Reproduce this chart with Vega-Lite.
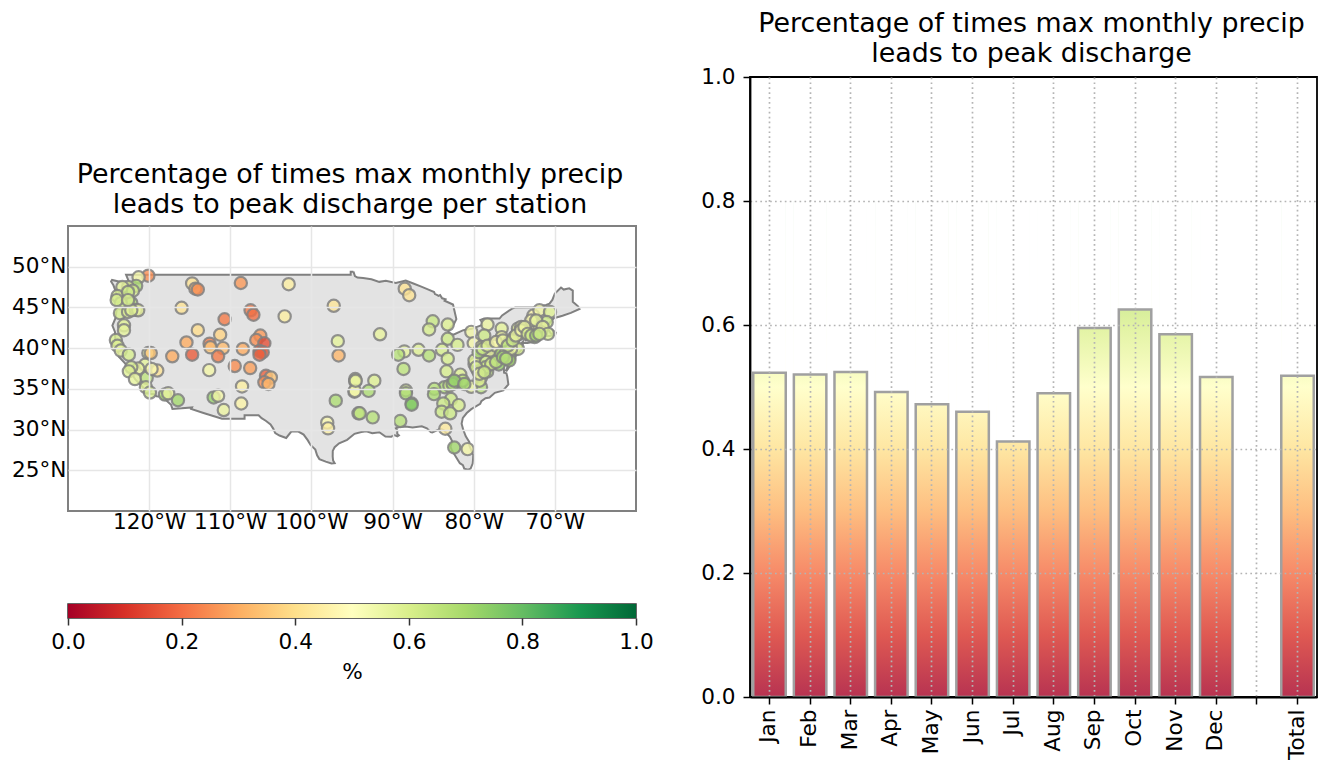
{"$schema":"https://vega.github.io/schema/vega-lite/v6.json","background":"white","padding":{"left":10,"top":10,"right":0,"bottom":0},"spacing":45,"config":{"font":"DejaVu Sans","view":{"fill":"white"},"title":{"font":"DejaVu Sans","fontWeight":"normal","color":"#000000","fontSize":26.85,"lineHeight":30,"anchor":"middle"},"axis":{"labelFont":"DejaVu Sans","titleFont":"DejaVu Sans","labelColor":"#000000","titleColor":"#000000","labelFontSize":21.6,"titleFontSize":21.6,"titleFontWeight":"normal","labelOverlap":false,"labelBound":false,"labelFlush":false}},"datasets":{"land":[{"i":0,"lon":-94.82,"lat":49.39},{"i":1,"lon":-94.64,"lat":48.84},{"i":2,"lon":-94.33,"lat":48.67},{"i":3,"lon":-93.63,"lat":48.61},{"i":4,"lon":-92.61,"lat":48.45},{"i":5,"lon":-91.64,"lat":48.14},{"i":6,"lon":-90.83,"lat":48.27},{"i":7,"lon":-89.6,"lat":48.01},{"i":8,"lon":-88.38,"lat":48.3},{"i":9,"lon":-87.44,"lat":47.94},{"i":10,"lon":-86.46,"lat":47.55},{"i":11,"lon":-85.65,"lat":47.22},{"i":12,"lon":-84.88,"lat":46.9},{"i":13,"lon":-84.78,"lat":46.64},{"i":14,"lon":-84.54,"lat":46.54},{"i":15,"lon":-84.34,"lat":46.41},{"i":16,"lon":-84.14,"lat":46.51},{"i":17,"lon":-83.89,"lat":46.12},{"i":18,"lon":-83.47,"lat":45.99},{"i":19,"lon":-83.59,"lat":45.82},{"i":20,"lon":-82.55,"lat":45.35},{"i":21,"lon":-82.34,"lat":44.44},{"i":22,"lon":-82.14,"lat":43.57},{"i":23,"lon":-82.43,"lat":42.98},{"i":24,"lon":-82.9,"lat":42.43},{"i":25,"lon":-83.12,"lat":42.08},{"i":26,"lon":-83.03,"lat":41.83},{"i":27,"lon":-82.69,"lat":41.68},{"i":28,"lon":-82.44,"lat":41.68},{"i":29,"lon":-81.28,"lat":42.21},{"i":30,"lon":-80.25,"lat":42.37},{"i":31,"lon":-78.94,"lat":42.86},{"i":32,"lon":-79.01,"lat":43.27},{"i":33,"lon":-79.17,"lat":43.47},{"i":34,"lon":-78.72,"lat":43.63},{"i":35,"lon":-76.82,"lat":43.63},{"i":36,"lon":-76.5,"lat":44.02},{"i":37,"lon":-75.32,"lat":44.82},{"i":38,"lon":-74.87,"lat":45.0},{"i":39,"lon":-71.51,"lat":45.01},{"i":40,"lon":-71.41,"lat":45.26},{"i":41,"lon":-71.08,"lat":45.31},{"i":42,"lon":-70.66,"lat":45.46},{"i":43,"lon":-70.31,"lat":45.92},{"i":44,"lon":-70.0,"lat":46.69},{"i":45,"lon":-69.24,"lat":47.45},{"i":46,"lon":-68.91,"lat":47.19},{"i":47,"lon":-68.23,"lat":47.35},{"i":48,"lon":-67.79,"lat":47.07},{"i":49,"lon":-67.79,"lat":45.7},{"i":50,"lon":-67.14,"lat":45.14},{"i":51,"lon":-66.96,"lat":44.81},{"i":52,"lon":-68.03,"lat":44.33},{"i":53,"lon":-69.06,"lat":43.98},{"i":54,"lon":-70.12,"lat":43.68},{"i":55,"lon":-70.65,"lat":43.09},{"i":56,"lon":-70.81,"lat":42.87},{"i":57,"lon":-70.83,"lat":42.34},{"i":58,"lon":-70.5,"lat":41.81},{"i":59,"lon":-70.08,"lat":41.78},{"i":60,"lon":-70.19,"lat":42.15},{"i":61,"lon":-69.88,"lat":41.92},{"i":62,"lon":-69.97,"lat":41.64},{"i":63,"lon":-70.64,"lat":41.48},{"i":64,"lon":-71.12,"lat":41.49},{"i":65,"lon":-71.86,"lat":41.32},{"i":66,"lon":-72.88,"lat":41.22},{"i":67,"lon":-73.71,"lat":40.93},{"i":68,"lon":-72.24,"lat":41.12},{"i":69,"lon":-71.95,"lat":40.93},{"i":70,"lon":-73.35,"lat":40.63},{"i":71,"lon":-73.98,"lat":40.63},{"i":72,"lon":-73.95,"lat":40.75},{"i":73,"lon":-74.26,"lat":40.47},{"i":74,"lon":-73.96,"lat":40.43},{"i":75,"lon":-74.18,"lat":39.71},{"i":76,"lon":-74.91,"lat":38.94},{"i":77,"lon":-74.98,"lat":39.2},{"i":78,"lon":-75.2,"lat":39.25},{"i":79,"lon":-75.53,"lat":39.5},{"i":80,"lon":-75.32,"lat":38.96},{"i":81,"lon":-75.07,"lat":38.78},{"i":82,"lon":-75.06,"lat":38.4},{"i":83,"lon":-75.38,"lat":38.02},{"i":84,"lon":-75.94,"lat":37.22},{"i":85,"lon":-76.03,"lat":37.26},{"i":86,"lon":-75.72,"lat":37.94},{"i":87,"lon":-76.23,"lat":38.32},{"i":88,"lon":-76.35,"lat":39.15},{"i":89,"lon":-76.54,"lat":38.72},{"i":90,"lon":-76.33,"lat":38.08},{"i":91,"lon":-76.99,"lat":38.24},{"i":92,"lon":-76.3,"lat":37.92},{"i":93,"lon":-76.26,"lat":36.97},{"i":94,"lon":-75.97,"lat":36.9},{"i":95,"lon":-75.87,"lat":36.55},{"i":96,"lon":-75.73,"lat":35.55},{"i":97,"lon":-76.36,"lat":34.81},{"i":98,"lon":-77.4,"lat":34.51},{"i":99,"lon":-78.05,"lat":33.93},{"i":100,"lon":-78.55,"lat":33.86},{"i":101,"lon":-79.06,"lat":33.49},{"i":102,"lon":-79.2,"lat":33.16},{"i":103,"lon":-80.3,"lat":32.51},{"i":104,"lon":-80.86,"lat":32.03},{"i":105,"lon":-81.34,"lat":31.44},{"i":106,"lon":-81.49,"lat":30.73},{"i":107,"lon":-81.31,"lat":30.04},{"i":108,"lon":-80.98,"lat":29.18},{"i":109,"lon":-80.54,"lat":28.47},{"i":110,"lon":-80.53,"lat":28.04},{"i":111,"lon":-80.06,"lat":26.88},{"i":112,"lon":-80.09,"lat":26.21},{"i":113,"lon":-80.13,"lat":25.82},{"i":114,"lon":-80.38,"lat":25.21},{"i":115,"lon":-80.68,"lat":25.08},{"i":116,"lon":-81.17,"lat":25.2},{"i":117,"lon":-81.33,"lat":25.64},{"i":118,"lon":-81.71,"lat":25.87},{"i":119,"lon":-82.24,"lat":26.73},{"i":120,"lon":-82.71,"lat":27.5},{"i":121,"lon":-82.86,"lat":27.89},{"i":122,"lon":-82.65,"lat":28.55},{"i":123,"lon":-82.93,"lat":29.1},{"i":124,"lon":-83.71,"lat":29.94},{"i":125,"lon":-84.1,"lat":30.09},{"i":126,"lon":-85.11,"lat":29.64},{"i":127,"lon":-85.29,"lat":29.69},{"i":128,"lon":-85.77,"lat":30.15},{"i":129,"lon":-86.4,"lat":30.4},{"i":130,"lon":-87.53,"lat":30.27},{"i":131,"lon":-88.42,"lat":30.38},{"i":132,"lon":-89.18,"lat":30.32},{"i":133,"lon":-89.59,"lat":30.16},{"i":134,"lon":-89.41,"lat":29.89},{"i":135,"lon":-89.43,"lat":29.49},{"i":136,"lon":-89.22,"lat":29.29},{"i":137,"lon":-89.41,"lat":29.16},{"i":138,"lon":-89.78,"lat":29.31},{"i":139,"lon":-90.15,"lat":29.12},{"i":140,"lon":-90.88,"lat":29.15},{"i":141,"lon":-91.63,"lat":29.68},{"i":142,"lon":-92.5,"lat":29.55},{"i":143,"lon":-93.23,"lat":29.78},{"i":144,"lon":-93.85,"lat":29.71},{"i":145,"lon":-94.69,"lat":29.48},{"i":146,"lon":-95.6,"lat":28.74},{"i":147,"lon":-96.59,"lat":28.31},{"i":148,"lon":-97.14,"lat":27.83},{"i":149,"lon":-97.37,"lat":27.38},{"i":150,"lon":-97.38,"lat":26.69},{"i":151,"lon":-97.33,"lat":26.21},{"i":152,"lon":-97.14,"lat":25.87},{"i":153,"lon":-97.53,"lat":25.84},{"i":154,"lon":-98.24,"lat":26.06},{"i":155,"lon":-99.02,"lat":26.37},{"i":156,"lon":-99.3,"lat":26.84},{"i":157,"lon":-99.52,"lat":27.54},{"i":158,"lon":-100.11,"lat":28.11},{"i":159,"lon":-100.46,"lat":28.7},{"i":160,"lon":-100.96,"lat":29.38},{"i":161,"lon":-101.66,"lat":29.78},{"i":162,"lon":-102.48,"lat":29.76},{"i":163,"lon":-103.11,"lat":28.97},{"i":164,"lon":-103.94,"lat":29.27},{"i":165,"lon":-104.46,"lat":29.57},{"i":166,"lon":-104.71,"lat":30.12},{"i":167,"lon":-105.04,"lat":30.64},{"i":168,"lon":-105.63,"lat":31.08},{"i":169,"lon":-106.14,"lat":31.4},{"i":170,"lon":-106.51,"lat":31.75},{"i":171,"lon":-108.24,"lat":31.75},{"i":172,"lon":-108.24,"lat":31.34},{"i":173,"lon":-109.04,"lat":31.34},{"i":174,"lon":-111.02,"lat":31.33},{"i":175,"lon":-113.3,"lat":32.04},{"i":176,"lon":-114.82,"lat":32.53},{"i":177,"lon":-114.72,"lat":32.72},{"i":178,"lon":-115.99,"lat":32.61},{"i":179,"lon":-117.13,"lat":32.54},{"i":180,"lon":-117.3,"lat":33.05},{"i":181,"lon":-117.94,"lat":33.62},{"i":182,"lon":-118.41,"lat":33.74},{"i":183,"lon":-118.52,"lat":34.03},{"i":184,"lon":-119.08,"lat":34.08},{"i":185,"lon":-119.44,"lat":34.35},{"i":186,"lon":-120.37,"lat":34.45},{"i":187,"lon":-120.62,"lat":34.61},{"i":188,"lon":-120.74,"lat":35.16},{"i":189,"lon":-121.71,"lat":36.16},{"i":190,"lon":-122.55,"lat":37.55},{"i":191,"lon":-122.51,"lat":37.78},{"i":192,"lon":-122.95,"lat":38.11},{"i":193,"lon":-123.73,"lat":38.95},{"i":194,"lon":-123.87,"lat":39.77},{"i":195,"lon":-124.4,"lat":40.31},{"i":196,"lon":-124.18,"lat":41.14},{"i":197,"lon":-124.21,"lat":42.0},{"i":198,"lon":-124.53,"lat":42.77},{"i":199,"lon":-124.14,"lat":43.71},{"i":200,"lon":-124.02,"lat":44.62},{"i":201,"lon":-123.9,"lat":45.52},{"i":202,"lon":-124.08,"lat":46.86},{"i":203,"lon":-124.4,"lat":47.72},{"i":204,"lon":-124.69,"lat":48.18},{"i":205,"lon":-124.57,"lat":48.38},{"i":206,"lon":-123.12,"lat":48.04},{"i":207,"lon":-122.59,"lat":47.1},{"i":208,"lon":-122.34,"lat":47.36},{"i":209,"lon":-122.5,"lat":48.18},{"i":210,"lon":-122.84,"lat":49.0},{"i":211,"lon":-120.0,"lat":49.0},{"i":212,"lon":-117.03,"lat":49.0},{"i":213,"lon":-113.0,"lat":49.0},{"i":214,"lon":-110.05,"lat":49.0},{"i":215,"lon":-107.05,"lat":49.0},{"i":216,"lon":-104.05,"lat":49.0},{"i":217,"lon":-100.65,"lat":49.0},{"i":218,"lon":-97.23,"lat":49.0},{"i":219,"lon":-95.16,"lat":49.0},{"i":220,"lon":-95.16,"lat":49.38},{"i":221,"lon":-94.82,"lat":49.39}],
"stations":[{"lon":-120.1,"lat":48.9,"v":0.25},{"lon":-121.3,"lat":48.7,"v":0.52},{"lon":-121.6,"lat":47.65,"v":0.68},{"lon":-122.6,"lat":47.5,"v":0.58},{"lon":-123.3,"lat":47.5,"v":0.56},{"lon":-122,"lat":47.05,"v":0.6},{"lon":-123.9,"lat":46.4,"v":0.6},{"lon":-122.2,"lat":45.55,"v":0.68},{"lon":-123.5,"lat":45.5,"v":0.62},{"lon":-123.6,"lat":44.3,"v":0.6},{"lon":-122.6,"lat":44.45,"v":0.58},{"lon":-121.65,"lat":44.7,"v":0.56},{"lon":-123.1,"lat":42.8,"v":0.58},{"lon":-123.1,"lat":42.2,"v":0.56},{"lon":-124.1,"lat":41,"v":0.6},{"lon":-123.9,"lat":40.3,"v":0.58},{"lon":-123.5,"lat":39.7,"v":0.56},{"lon":-122.5,"lat":39.2,"v":0.6},{"lon":-120.1,"lat":39.4,"v":0.55},{"lon":-119.8,"lat":39.4,"v":0.35},{"lon":-119,"lat":37.25,"v":0.42},{"lon":-120.5,"lat":37.95,"v":0.56},{"lon":-121.35,"lat":37.5,"v":0.55},{"lon":-122.2,"lat":37.65,"v":0.6},{"lon":-122.5,"lat":37.15,"v":0.58},{"lon":-121.75,"lat":36.2,"v":0.56},{"lon":-120.3,"lat":36.35,"v":0.65},{"lon":-120.4,"lat":35.2,"v":0.58},{"lon":-119.9,"lat":34.55,"v":0.6},{"lon":-118.05,"lat":34.3,"v":0.68},{"lon":-117.65,"lat":34.45,"v":0.55},{"lon":-116.45,"lat":33.6,"v":0.7},{"lon":-114.7,"lat":47.95,"v":0.42},{"lon":-114.3,"lat":47.3,"v":0.32},{"lon":-114,"lat":47.2,"v":0.25},{"lon":-108.7,"lat":48,"v":0.27},{"lon":-102.8,"lat":47.85,"v":0.46},{"lon":-116,"lat":44.95,"v":0.42},{"lon":-110.7,"lat":43.55,"v":0.22},{"lon":-107.5,"lat":44.65,"v":0.22},{"lon":-107.15,"lat":44.1,"v":0.2},{"lon":-103.3,"lat":43.9,"v":0.46},{"lon":-97.25,"lat":45.2,"v":0.43},{"lon":-114,"lat":42.2,"v":0.4},{"lon":-111.25,"lat":41.65,"v":0.38},{"lon":-106.3,"lat":41.55,"v":0.27},{"lon":-106.8,"lat":41,"v":0.25},{"lon":-105.8,"lat":40.6,"v":0.15},{"lon":-112.55,"lat":40.55,"v":0.22},{"lon":-115.4,"lat":40.7,"v":0.3},{"lon":-112.45,"lat":40.1,"v":0.35},{"lon":-110.9,"lat":40,"v":0.33},{"lon":-108.45,"lat":39.9,"v":0.3},{"lon":-106.4,"lat":39.65,"v":0.15},{"lon":-106,"lat":39.5,"v":0.17},{"lon":-106.4,"lat":39.2,"v":0.18},{"lon":-117.15,"lat":39,"v":0.3},{"lon":-114.7,"lat":39.2,"v":0.17},{"lon":-111.5,"lat":39,"v":0.22},{"lon":-109.45,"lat":37.8,"v":0.25},{"lon":-107.55,"lat":37.55,"v":0.28},{"lon":-112.6,"lat":37.3,"v":0.52},{"lon":-105.6,"lat":36.6,"v":0.18},{"lon":-105,"lat":36.4,"v":0.35},{"lon":-105.8,"lat":35.8,"v":0.25},{"lon":-105.3,"lat":35.6,"v":0.32},{"lon":-108.55,"lat":35.3,"v":0.46},{"lon":-108.65,"lat":33.2,"v":0.48},{"lon":-112.05,"lat":33.95,"v":0.72},{"lon":-111.5,"lat":34.15,"v":0.52},{"lon":-110.8,"lat":32.4,"v":0.54},{"lon":-96.75,"lat":40.85,"v":0.56},{"lon":-96.65,"lat":39.1,"v":0.32},{"lon":-94.6,"lat":36.2,"v":0.56},{"lon":-94.6,"lat":35.9,"v":0.54},{"lon":-94.7,"lat":34.65,"v":0.54},{"lon":-97,"lat":33.55,"v":0.68},{"lon":-98.05,"lat":30.85,"v":0.5},{"lon":-97.95,"lat":30.15,"v":0.46},{"lon":-94.2,"lat":32,"v":0.64},{"lon":-88.5,"lat":47.3,"v":0.42},{"lon":-87.95,"lat":46.5,"v":0.42},{"lon":-91.55,"lat":41.7,"v":0.55},{"lon":-85.05,"lat":43.3,"v":0.63},{"lon":-85.5,"lat":42.3,"v":0.6},{"lon":-83.2,"lat":42.9,"v":0.58},{"lon":-83.2,"lat":41.15,"v":0.62},{"lon":-82,"lat":40.4,"v":0.6},{"lon":-80.3,"lat":42,"v":0.53},{"lon":-78.3,"lat":42.9,"v":0.54},{"lon":-78.7,"lat":41.55,"v":0.62},{"lon":-76.55,"lat":42.4,"v":0.56},{"lon":-76.55,"lat":41.35,"v":0.53},{"lon":-80,"lat":40.6,"v":0.52},{"lon":-79.3,"lat":39.65,"v":0.66},{"lon":-78.05,"lat":40.1,"v":0.6},{"lon":-77.25,"lat":40.55,"v":0.55},{"lon":-76.85,"lat":39.5,"v":0.62},{"lon":-75.6,"lat":40.75,"v":0.62},{"lon":-75,"lat":41.35,"v":0.6},{"lon":-74.55,"lat":42,"v":0.52},{"lon":-74.55,"lat":42.4,"v":0.56},{"lon":-74.55,"lat":39.9,"v":0.6},{"lon":-73.1,"lat":42.7,"v":0.52},{"lon":-72.3,"lat":42.85,"v":0.5},{"lon":-71.9,"lat":42.7,"v":0.52},{"lon":-72.65,"lat":44,"v":0.48},{"lon":-71.9,"lat":44.65,"v":0.53},{"lon":-70.6,"lat":44.45,"v":0.58},{"lon":-71,"lat":43.2,"v":0.62},{"lon":-72.5,"lat":41.35,"v":0.72},{"lon":-71.7,"lat":41.95,"v":0.6},{"lon":-75.6,"lat":38.9,"v":0.68},{"lon":-75.6,"lat":38.5,"v":0.7},{"lon":-76.9,"lat":38,"v":0.72},{"lon":-77.45,"lat":38.7,"v":0.6},{"lon":-78.35,"lat":37.1,"v":0.65},{"lon":-78.9,"lat":37.65,"v":0.58},{"lon":-79.9,"lat":38.05,"v":0.52},{"lon":-79.1,"lat":36.4,"v":0.55},{"lon":-79.1,"lat":35.2,"v":0.66},{"lon":-80.3,"lat":35.25,"v":0.55},{"lon":-83.9,"lat":39.8,"v":0.6},{"lon":-83.2,"lat":38.7,"v":0.6},{"lon":-83.35,"lat":37.15,"v":0.6},{"lon":-81.65,"lat":36.75,"v":0.58},{"lon":-82.2,"lat":35.8,"v":0.68},{"lon":-83.6,"lat":35.2,"v":0.68},{"lon":-84.85,"lat":35,"v":0.66},{"lon":-84.9,"lat":34.35,"v":0.68},{"lon":-82.8,"lat":33.75,"v":0.62},{"lon":-81.85,"lat":33,"v":0.6},{"lon":-83.75,"lat":33.2,"v":0.62},{"lon":-83.95,"lat":32.2,"v":0.62},{"lon":-82.9,"lat":32,"v":0.62},{"lon":-83.5,"lat":30.1,"v":0.45},{"lon":-82.4,"lat":27.8,"v":0.7},{"lon":-80.75,"lat":27.6,"v":0.52},{"lon":-86.8,"lat":39.8,"v":0.58},{"lon":-85.5,"lat":39.1,"v":0.66},{"lon":-88.55,"lat":39.6,"v":0.56},{"lon":-89.3,"lat":39.2,"v":0.66},{"lon":-88.65,"lat":37.45,"v":0.65},{"lon":-88.35,"lat":34.8,"v":0.6},{"lon":-88.35,"lat":34.45,"v":0.68},{"lon":-87.65,"lat":33.2,"v":0.72},{"lon":-87.65,"lat":33.05,"v":0.75},{"lon":-89.05,"lat":31.05,"v":0.66},{"lon":-92.25,"lat":36,"v":0.58},{"lon":-92.95,"lat":34.75,"v":0.68},{"lon":-94.65,"lat":34.75,"v":0.52},{"lon":-94.55,"lat":36,"v":0.55},{"lon":-94.05,"lat":32,"v":0.65},{"lon":-92.45,"lat":31.5,"v":0.66},{"lon":-78.05,"lat":39.7,"v":0.55},{"lon":-77.3,"lat":40.3,"v":0.52},{"lon":-76.6,"lat":39.3,"v":0.68},{"lon":-76,"lat":39.5,"v":0.6},{"lon":-75.4,"lat":39.9,"v":0.55},{"lon":-74.35,"lat":41.75,"v":0.55},{"lon":-74.15,"lat":42.6,"v":0.5},{"lon":-72.9,"lat":43.4,"v":0.5},{"lon":-72.3,"lat":43.4,"v":0.56},{"lon":-71.5,"lat":42.6,"v":0.55},{"lon":-70.85,"lat":41.75,"v":0.6},{"lon":-79.5,"lat":37.25,"v":0.58},{"lon":-79.9,"lat":38.5,"v":0.58},{"lon":-78.5,"lat":38.3,"v":0.62},{"lon":-79.3,"lat":36,"v":0.58},{"lon":-81.35,"lat":36,"v":0.65},{"lon":-83,"lat":35.4,"v":0.62},{"lon":-82.6,"lat":35.6,"v":0.7},{"lon":-79.1,"lat":40.1,"v":0.56},{"lon":-79.4,"lat":39.5,"v":0.68},{"lon":-78.9,"lat":39.9,"v":0.62},{"lon":-78.3,"lat":40.3,"v":0.58},{"lon":-77.25,"lat":40.75,"v":0.5},{"lon":-76.4,"lat":40.95,"v":0.55},{"lon":-75.8,"lat":40.3,"v":0.65},{"lon":-75.2,"lat":40.95,"v":0.62},{"lon":-74.8,"lat":41.55,"v":0.55},{"lon":-74.15,"lat":42.2,"v":0.52},{"lon":-73.75,"lat":42.6,"v":0.55},{"lon":-73.35,"lat":41.75,"v":0.6},{"lon":-72.9,"lat":41.55,"v":0.62},{"lon":-72.3,"lat":41.55,"v":0.7},{"lon":-71.9,"lat":41.75,"v":0.62},{"lon":-78.5,"lat":37.65,"v":0.62},{"lon":-77.85,"lat":38.05,"v":0.6},{"lon":-77.25,"lat":38.3,"v":0.65},{"lon":-76.4,"lat":38.9,"v":0.7},{"lon":-76,"lat":38.7,"v":0.66},{"lon":-79.7,"lat":37.65,"v":0.6},{"lon":-79.3,"lat":36.85,"v":0.55},{"lon":-78.7,"lat":37.05,"v":0.62},{"lon":-82.4,"lat":36,"v":0.72},{"lon":-81.15,"lat":35.6,"v":0.7},{"lon":-122.6,"lat":46.9,"v":0.62},{"lon":-121.35,"lat":44.65,"v":0.55},{"lon":-122.2,"lat":44.65,"v":0.58},{"lon":-124,"lat":45.9,"v":0.6},{"lon":-122.6,"lat":45.9,"v":0.6},{"lon":-119.7,"lat":37.45,"v":0.5}],
"months":[{"month":"Jan","share":0.523},{"month":"Feb","share":0.52},{"month":"Mar","share":0.524},{"month":"Apr","share":0.492},{"month":"May","share":0.472},{"month":"Jun","share":0.46},{"month":"Jul","share":0.412},{"month":"Aug","share":0.49},{"month":"Sep","share":0.595},{"month":"Oct","share":0.625},{"month":"Nov","share":0.585},{"month":"Dec","share":0.516},{"month":"Total","share":0.518}]},
"hconcat":[{"bounds":"flush","spacing":93,"vconcat":[
{"width":568,"height":56,"data":{"values":[]},"mark":"rect","encoding":{},"view":{"stroke":null,"fill":null}},
{"width":568,"height":285,"title":{"text":["Percentage of times max monthly precip","leads to peak discharge per station"],"offset":7,"dx":-2},"view":{"stroke":"#808080","strokeWidth":2},
"encoding":{"x":{"field":"lon","type":"quantitative","scale":{"domain":[-130,-60],"nice":false},"axis":{"title":null,"values":[-120,-110,-100,-90,-80,-70],"labelExpr":"abs(datum.value)+'°W'","ticks":false,"domain":false,"grid":true,"gridColor":"#e6e6e6","gridWidth":1.5,"zindex":1,"labelPadding":0}},"y":{"field":"lat","type":"quantitative","scale":{"domain":[20,55],"nice":false},"axis":{"title":null,"values":[25,30,35,40,45,50],"labelExpr":"datum.value+'°N'","ticks":false,"domain":false,"grid":true,"gridColor":"#e6e6e6","gridWidth":1.5,"zindex":1,"labelPadding":2}}},
"layer":[{"data":{"name":"land"},"mark":{"type":"line","fill":"#e3e3e3","stroke":"#808080","strokeWidth":2},"encoding":{"order":{"field":"i","type":"quantitative"}}},
{"data":{"name":"stations"},"mark":{"type":"point","filled":true,"size":150,"fillOpacity":0.8,"stroke":"#808080","strokeOpacity":0.85,"strokeWidth":2.2},"encoding":{"fill":{"field":"v","type":"quantitative","scale":{"scheme":"redyellowgreen","domain":[0,1]},"legend":null}}}]},
{"width":568,"height":14,"data":{"values":[{"label":"%"}]},"view":{"stroke":"#333333","strokeWidth":1.5},"mark":{"type":"rect","fill":{"gradient":"linear","x1":0,"y1":0,"x2":1,"y2":0,"stops":[{"offset":0,"color":"#a50026"},{"offset":0.1,"color":"#d73027"},{"offset":0.2,"color":"#f46d43"},{"offset":0.3,"color":"#fdae61"},{"offset":0.4,"color":"#fee08b"},{"offset":0.5,"color":"#ffffbf"},{"offset":0.6,"color":"#d9ef8b"},{"offset":0.7,"color":"#a6d96a"},{"offset":0.8,"color":"#66bd63"},{"offset":0.9,"color":"#1a9850"},{"offset":1,"color":"#006837"}]}},"encoding":{"x":{"datum":0,"type":"quantitative","scale":{"domain":[0,1],"nice":false},"axis":{"title":"%","values":[0,0.2,0.4,0.6,0.8,1],"format":".1f","domain":false,"tickColor":"#333333","tickSize":7,"tickWidth":1.5,"labelPadding":6,"titleFontSize":21.6,"titlePadding":9}},"x2":{"datum":1}}}
]},
{"width":567,"height":620,"title":{"text":["Percentage of times max monthly precip","leads to peak discharge"],"offset":-2,"dx":-2},"data":{"name":"months"},"view":{"stroke":"#000000","strokeWidth":1.8},
"encoding":{"x":{"field":"month","type":"nominal","scale":{"domain":["Jan","Feb","Mar","Apr","May","Jun","Jul","Aug","Sep","Oct","Nov","Dec"," ","Total"],"paddingInner":0.2,"paddingOuter":0.08},"axis":{"title":null,"labelAngle":-90,"labelAlign":"right","labelBaseline":"middle","tickColor":"#000000","tickSize":7,"tickWidth":1.5,"domainColor":"#000000","domainWidth":1.8,"grid":true,"gridColor":"#b4b4b4","gridWidth":1.7,"gridDash":[1.7,3.2],"zindex":1,"labelPadding":5}}},
"layer":[{"mark":{"type":"bar","opacity":0.8,"fill":{"gradient":"linear","x1":0,"y1":1,"x2":0,"y2":0,"stops":[{"offset":0,"color":"#a50026"},{"offset":0.125,"color":"#d73027"},{"offset":0.25,"color":"#f46d43"},{"offset":0.375,"color":"#fdae61"},{"offset":0.5,"color":"#fee08b"},{"offset":0.625,"color":"#ffffbf"},{"offset":0.75,"color":"#d9ef8b"},{"offset":0.875,"color":"#a6d96a"},{"offset":1,"color":"#66bd63"}]}},"encoding":{"y":{"datum":0.8,"type":"quantitative","scale":{"domain":[0,1],"nice":false},"axis":{"title":null,"values":[0,0.2,0.4,0.6,0.8,1],"format":".1f","tickColor":"#000000","tickSize":7,"tickWidth":1.5,"domainColor":"#000000","domainWidth":1.8,"grid":true,"gridColor":{"condition":{"test":"datum.value===0||datum.value===1","value":"transparent"},"value":"#b4b4b4"},"gridWidth":1.7,"gridDash":[1.7,3.2],"zindex":1,"labelPadding":8}},"y2":{"datum":0}}},
{"mark":{"type":"bar","fill":"white","stroke":"white","strokeWidth":1},"encoding":{"y":{"field":"share","type":"quantitative"},"y2":{"datum":0.81}}},
{"mark":{"type":"bar","fillOpacity":0,"stroke":"#a0a0a0","strokeWidth":2.5},"encoding":{"y":{"field":"share","type":"quantitative"},"y2":{"datum":0}}}]}
]}
